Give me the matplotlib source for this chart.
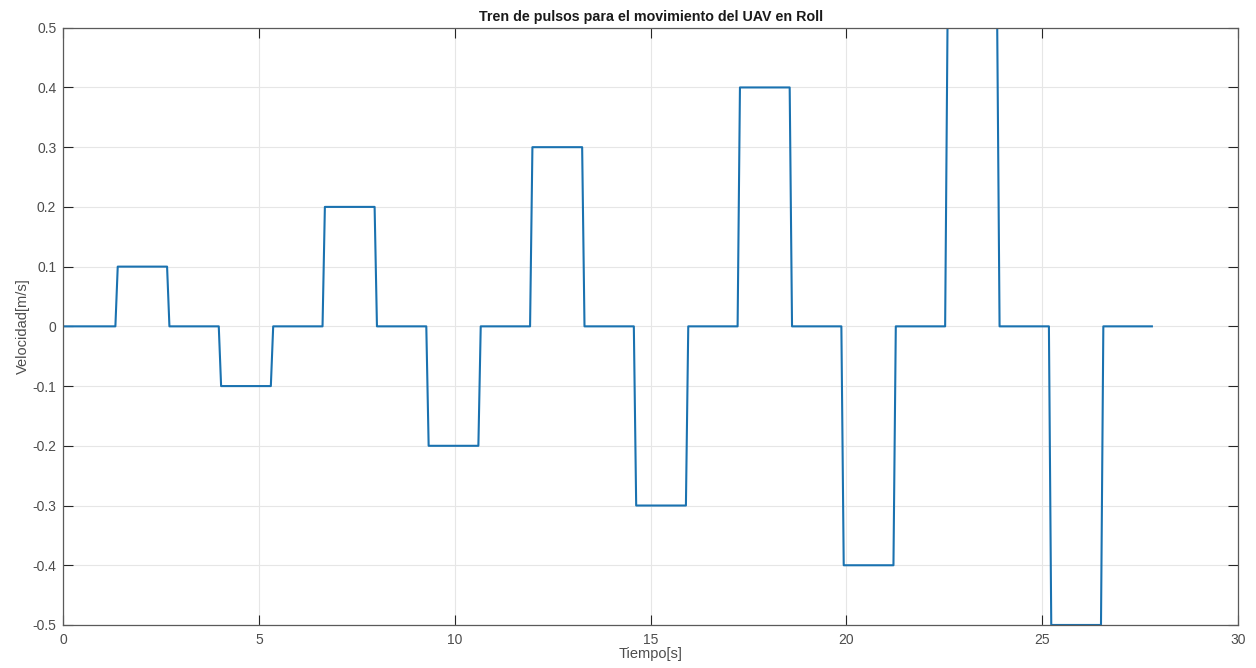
import matplotlib
matplotlib.use("Agg")
import matplotlib.pyplot as plt
import numpy as np

# Niveles de cada tramo del tren de pulsos [m/s]
niveles = [0, 0.1, 0, -0.1, 0, 0.2, 0, -0.2, 0, 0.3, 0, -0.3,
           0, 0.4, 0, -0.4, 0, 0.5, 0, -0.5, 0]
# Instantes de cambio entre tramos [s]
cambios = [1.33, 2.65, 3.97, 5.30, 6.62, 7.95, 9.27, 10.60, 11.92, 13.25,
           14.57, 15.90, 17.22, 18.55, 19.87, 21.20, 22.52, 23.85, 25.17, 26.50]
t_inicio = 0.0
t_fin = 27.8

x_ticks = [0, 5, 10, 15, 20, 25, 30]
y_ticks = [-0.5, -0.4, -0.3, -0.2, -0.1, 0, 0.1, 0.2, 0.3, 0.4, 0.5]

plt.rcParams['font.family'] = ['Liberation Sans', 'DejaVu Sans']
plt.rcParams['axes.unicode_minus'] = False

# construir la señal con rampas cortas en cada cambio
rampa = 0.06
t = [t_inicio]
v = [niveles[0]]
for i, tc in enumerate(cambios):
    t += [tc, tc + rampa]
    v += [niveles[i], niveles[i + 1]]
t.append(t_fin)
v.append(niveles[-1])

fig = plt.figure(figsize=(12.56, 6.68), dpi=100)
ax = fig.add_axes([0.0504, 0.0644, 0.9353, 0.8941])

ax.plot(t, v, color='#1a72b0', lw=1.5)

ax.set_xlim(0, 30)
ax.set_ylim(-0.5, 0.5)
ax.set_xticks(x_ticks)
ax.set_yticks(y_ticks)
ax.set_xticklabels([str(x) for x in x_ticks])
ax.set_yticklabels(['0' if y == 0 else f'{y:g}' for y in y_ticks])

ax.grid(True, color='#e6e6e6', lw=0.8)
ax.set_axisbelow(True)
ax.tick_params(direction='in', length=7, width=0.8, color='#262626',
               labelsize=10, labelcolor='#4d4d4d', top=True, right=True)
ax.tick_params(axis='x', pad=6)
ax.tick_params(axis='y', pad=5)
for s in ax.spines.values():
    s.set_color('#5a5a5a')
    s.set_linewidth(0.9)

ax.set_title('Tren de pulsos para el movimiento del UAV en Roll',
             fontsize=10.3, fontweight='bold', color='#1a1a1a', pad=5)
ax.set_xlabel('Tiempo[s]', fontsize=10.5, color='#4d4d4d', labelpad=0)
ax.set_ylabel('Velocidad[m/s]', fontsize=10.5, color='#4d4d4d', labelpad=2)

fig.savefig('out.png', dpi=100, facecolor='white')
